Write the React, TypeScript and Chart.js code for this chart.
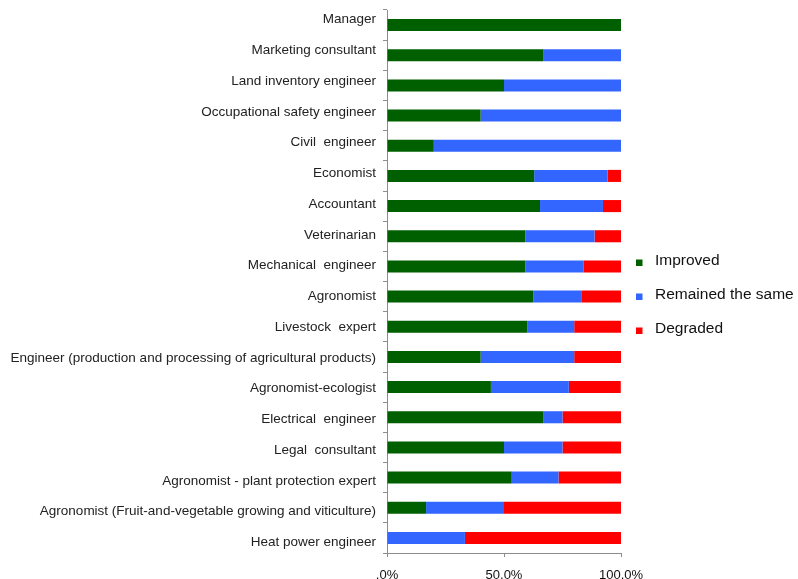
import { useEffect, useRef } from "react";
import { Chart, registerables } from "chart.js";

Chart.register(...registerables);

// Professions, listed top to bottom
const categories = [
  "Manager",
  "Marketing consultant",
  "Land inventory engineer",
  "Occupational safety engineer",
  "Civil  engineer",
  "Economist",
  "Accountant",
  "Veterinarian",
  "Mechanical  engineer",
  "Agronomist",
  "Livestock  expert",
  "Engineer (production and processing of agricultural products)",
  "Agronomist-ecologist",
  "Electrical  engineer",
  "Legal  consultant",
  "Agronomist - plant protection expert",
  "Agronomist (Fruit-and-vegetable growing and viticulture)",
  "Heat power engineer",
];

// Share of answers, %
const improved = [100, 66.7, 50, 40, 20, 62.9, 65.4, 59.1, 59.1, 62.5, 60, 40, 44.4, 66.7, 50, 53.3, 16.7, 0];
const remained = [0, 33.3, 50, 60, 80, 31.4, 26.9, 29.6, 25, 20.8, 20, 40, 33.3, 8.3, 25, 20, 33.3, 33.3];
const degraded = [0, 0, 0, 0, 0, 5.7, 7.7, 11.3, 15.9, 16.7, 20, 20, 22.2, 25, 25, 26.7, 50, 66.7];

const seriesNames = ["Improved", "Remained the same", "Degraded"];
const seriesColors = ["#006000", "#3366ff", "#ff0000"];
const xTickLabels = [",0%", "50,0%", "100,0%"];

const FONT = '"Liberation Sans", Arial, sans-serif';
const AXIS_GREY = "#8c8c8c";

// Legend drawn to the right of the plot, small squares next to the names
const sideLegend = {
  id: "sideLegend",
  afterDraw(chart: any) {
    const { ctx, chartArea } = chart;
    ctx.save();
    ctx.font = `15.5px ${FONT}`;
    ctx.textBaseline = "alphabetic";
    ctx.textAlign = "left";
    chart.data.datasets.forEach((ds: any, i: number) => {
      const baseline = 265 + i * 34;
      ctx.fillStyle = ds.backgroundColor;
      ctx.fillRect(chartArea.right + 15, baseline - 5.5, 6.5, 6.5);
      ctx.fillStyle = "#111";
      ctx.fillText(ds.label, chartArea.right + 34, baseline);
    });
    ctx.restore();
  },
};

const noVerticalPadding = (scale: any) => {
  scale.paddingTop = 0;
  scale.paddingBottom = 0;
};

export default function App() {
  const canvasRef = useRef<HTMLCanvasElement | null>(null);

  useEffect(() => {
    const canvas = canvasRef.current;
    if (!canvas) return;
    const values = [improved, remained, degraded];
    const chart = new Chart(canvas, {
      type: "bar",
      data: {
        labels: categories,
        datasets: values.map((data, i) => ({
          label: seriesNames[i],
          data,
          backgroundColor: seriesColors[i],
          borderWidth: 0,
          categoryPercentage: 1,
          barPercentage: 0.4,
          yAxisID: "y",
        })),
      },
      options: {
        indexAxis: "y",
        animation: false,
        responsive: true,
        maintainAspectRatio: false,
        layout: { padding: { top: 10, right: 177, left: 0, bottom: 0 } },
        plugins: {
          legend: { display: false },
          tooltip: { enabled: false },
        },
        scales: {
          x: {
            stacked: true,
            min: 0,
            max: 100,
            afterFit: (scale: any) => {
              scale.height = 26;
              scale.paddingLeft = 0;
              scale.paddingRight = 0;
            },
            ticks: {
              stepSize: 50,
              padding: 11,
              color: "#111",
              font: { family: FONT, size: 13 },
              callback: (_v: any, idx: number) => xTickLabels[idx],
            },
            grid: {
              drawOnChartArea: false,
              drawTicks: true,
              tickLength: 4,
              color: AXIS_GREY,
            },
            border: { display: true, color: AXIS_GREY },
          },
          // category axis carrying the bars, its line and boundary ticks
          y: {
            stacked: true,
            position: "left",
            weight: 0,
            afterFit: (scale: any) => {
              scale.width = 4;
              noVerticalPadding(scale);
            },
            ticks: { display: false },
            grid: {
              offset: true,
              drawOnChartArea: false,
              drawTicks: true,
              tickLength: 4,
              color: AXIS_GREY,
            },
            border: { display: true, color: AXIS_GREY },
          },
          // profession names, spaced slightly wider than the bars
          yLabels: {
            type: "linear",
            position: "left",
            weight: 1,
            reverse: true,
            offset: false,
            bounds: "data",
            min: -0.309,
            max: 17.34,
            afterBuildTicks: (scale: any) => {
              scale.ticks = categories.map((_, i) => ({ value: i }));
            },
            afterFit: (scale: any) => {
              scale.width = 383;
              noVerticalPadding(scale);
            },
            ticks: {
              autoSkip: false,
              padding: 7,
              color: "#222",
              font: { family: FONT, size: 13.5 },
              callback: (v: any) => categories[Number(v)] ?? "",
            },
            grid: { display: false, drawTicks: false },
            border: { display: false },
          },
        },
      } as any,
      plugins: [sideLegend],
    });
    return () => chart.destroy();
  }, []);

  return (
    <div style={{ position: "absolute", left: 0, top: 0, width: 798, height: 579, background: "#fff" }}>
      <canvas ref={canvasRef} />
    </div>
  );
}
